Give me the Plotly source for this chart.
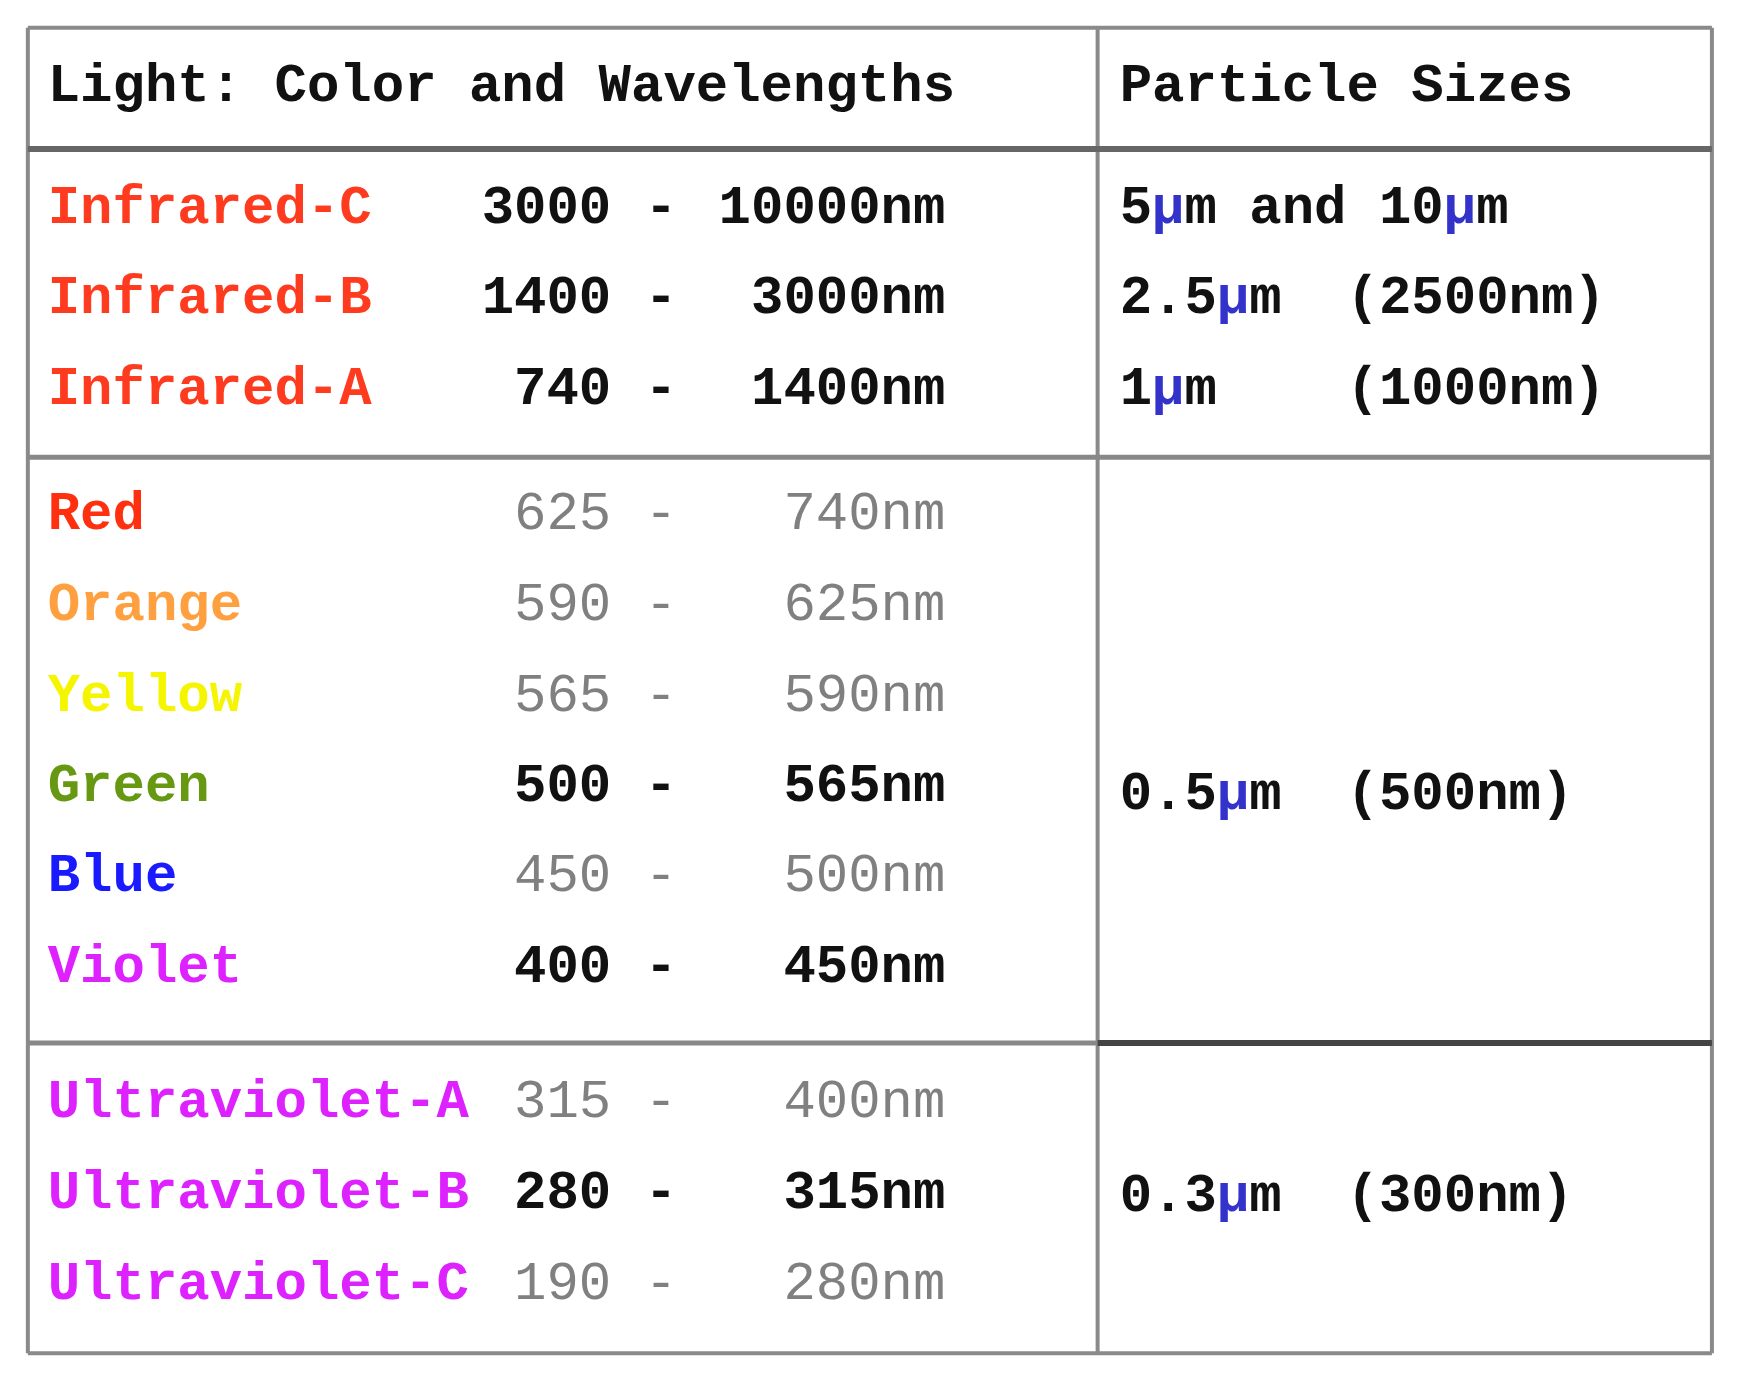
import plotly.graph_objects as go

header_left = "Light: Color and Wavelengths"
header_right = "Particle Sizes"
names = ["Infrared-C","Infrared-B","Infrared-A","Red","Orange","Yellow","Green","Blue","Violet",
         "Ultraviolet-A","Ultraviolet-B","Ultraviolet-C"]
name_colors = ["#ff3b1f","#ff3b1f","#ff3b1f","#ff3010","#ffa040","#f5f500","#669911","#1a1aff","#dd22ff",
               "#dd22ff","#dd22ff","#dd22ff"]
starts = ["3000","1400","740","625","590","565","500","450","400","315","280","190"]
ends = ["10000nm","3000nm","1400nm","740nm","625nm","590nm","565nm","500nm","450nm","400nm","315nm","280nm"]
bold_vals = [True,True,True,False,False,False,True,False,True,False,True,False]
row_y = [183,265,347,461,544,626,708,790,872,995,1078,1160]
sizes = ["5µm and 10µm","2.5µm  (2500nm)","1µm    (1000nm)","0.5µm  (500nm)","0.3µm  (300nm)"]
size_y = [183,265,347,715,1080]

MU = "<span style='color:#3333cc'>µ</span>"
FONT = "Liberation Mono, Courier New, monospace"
FS = 54

def b(t): return "<b>" + t + "</b>"

fig = go.Figure()
fig.add_trace(go.Scatter(x=[36]*len(names), y=row_y, mode="text", text=[b(n) for n in names],
    textposition="middle right", textfont=dict(family=FONT, size=FS, color=name_colors), hoverinfo="skip"))
vcol = ["#111" if bb else "#808080" for bb in bold_vals]
fig.add_trace(go.Scatter(x=[547]*len(starts), y=row_y, mode="text",
    text=[b(s) if bb else s for s, bb in zip(starts, bold_vals)],
    textposition="middle left", textfont=dict(family=FONT, size=FS, color=vcol), hoverinfo="skip"))
fig.add_trace(go.Scatter(x=[592]*len(starts), y=row_y, mode="text",
    text=[b("-") if bb else "-" for bb in bold_vals],
    textposition="middle center", textfont=dict(family=FONT, size=FS, color=vcol), hoverinfo="skip"))
fig.add_trace(go.Scatter(x=[850]*len(ends), y=row_y, mode="text",
    text=[b(e) if bb else e for e, bb in zip(ends, bold_vals)],
    textposition="middle left", textfont=dict(family=FONT, size=FS, color=vcol), hoverinfo="skip"))
fig.add_trace(go.Scatter(x=[1008]*len(sizes), y=size_y, mode="text",
    text=[b(s.replace(" ", "&nbsp;").replace("µ", MU)) for s in sizes],
    textposition="middle right", textfont=dict(family=FONT, size=FS, color="#111"), hoverinfo="skip"))
fig.add_trace(go.Scatter(x=[36, 1008], y=[72, 72], mode="text", text=[b(header_left), b(header_right)],
    textposition="middle right", textfont=dict(family=FONT, size=FS, color="#111"), hoverinfo="skip"))

shapes = []
def line(x0, y0, x1, y1, w=4, c="#8a8a8a"):
    shapes.append(dict(type="line", xref="x", yref="y", x0=x0, y0=y0, x1=x1, y1=y1, line=dict(color=c, width=w)))
line(18, 18, 1545, 18); line(18, 1222, 1545, 1222)
line(18, 18, 18, 1222); line(1545, 18, 1545, 1222)
line(988, 18, 988, 1222)
line(18, 128, 1545, 128, 6, "#666")
line(18, 408, 1545, 408, 5, "#888")
line(18, 940, 988, 940, 5, "#888")
line(988, 940, 1545, 940, 6, "#444")

fig.update_layout(width=1737, height=1385, margin=dict(l=0, r=0, t=0, b=0), showlegend=False,
    plot_bgcolor="white", paper_bgcolor="white", shapes=shapes,
    xaxis=dict(range=[0, 1575], visible=False, fixedrange=True),
    yaxis=dict(range=[1258, 0], visible=False, fixedrange=True))
fig.write_html("out.html")
